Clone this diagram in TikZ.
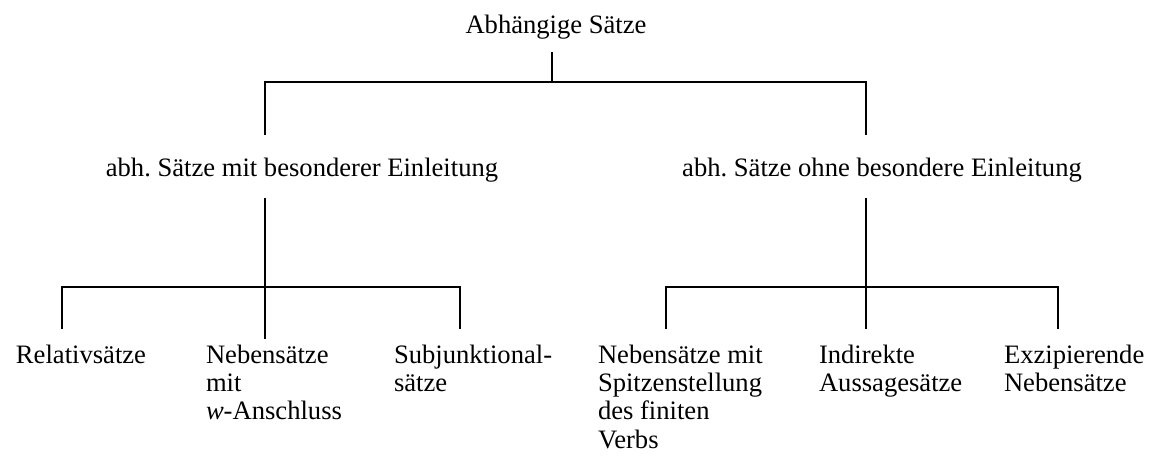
\documentclass[tikz,border=0pt]{standalone}
\usepackage{fontspec}
\setmainfont{Liberation Serif}
\frenchspacing
\begin{document}
\begin{tikzpicture}[x=0.5pt,y=-0.5pt,line width=1pt,
  lbl/.style={inner sep=0pt,font=\fontsize{13.3}{14.1}\selectfont},
  leaf/.style={lbl,align=left,anchor=north west}]
\useasboundingbox (0,0) rectangle (1150,455);
% nodes
\node[lbl,anchor=base] (root) at (556,33) {Abhängige Sätze};
\node[lbl,anchor=base] (mitE) at (302,176) {abh.\ Sätze mit besonderer Einleitung};
\node[lbl,anchor=base] (ohneE) at (882,176) {abh.\ Sätze ohne besondere Einleitung};
\node[leaf] (rel) at (15,344) {Relativsätze};
\node[leaf] (wan) at (205,344) {Nebensätze\\mit\\\textit{w}-Anschluss};
\node[leaf] (sub) at (393,344) {Subjunktional-\\sätze};
\node[leaf] (spi) at (597,344) {Nebensätze mit\\Spitzenstellung\\des finiten\\Verbs};
\node[leaf] (ind) at (818,344) {Indirekte\\Aussagesätze};
\node[leaf] (exz) at (1003,344) {Exzipierende\\Nebensätze};
% junction coordinates
\coordinate (r0) at (552,52);
\coordinate (r1) at (552,82);
\coordinate (ja) at (265,82);
\coordinate (jb) at (866,82);
\coordinate (ja1) at (265,135);
\coordinate (jb1) at (866,135);
\coordinate (a0) at (265,198);
\coordinate (a1) at (265,287);
\coordinate (b0) at (866,198);
\coordinate (b1) at (866,287);
\coordinate (al) at (62,287);
\coordinate (ar) at (460,287);
\coordinate (bl) at (666,287);
\coordinate (br) at (1058,287);
\coordinate (al1) at (62,329);
\coordinate (am1) at (265,339);
\coordinate (ar1) at (460,329);
\coordinate (bl1) at (666,329);
\coordinate (bm1) at (866,329);
\coordinate (br1) at (1058,329);
% connectors
\draw (r0) -- (r1);
\draw (ja1) -- (ja) -- (jb) -- (jb1);
\draw (a0) -- (am1);
\draw (al1) -- (al) -- (ar) -- (ar1);
\draw (b0) -- (bm1);
\draw (bl1) -- (bl) -- (br) -- (br1);
\end{tikzpicture}
\end{document}
